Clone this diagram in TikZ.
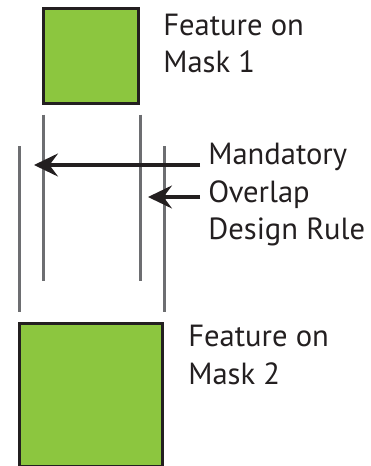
\documentclass[tikz,border=0pt]{standalone}
\usepackage{fontspec}
\setmainfont{PT Sans}
\usetikzlibrary{arrows.meta,calc}
\definecolor{featgreen}{HTML}{8CC63F}
\definecolor{inkdark}{HTML}{231F20}
\definecolor{guidegray}{HTML}{6D6E71}
\tikzset{
	feature/.style={draw=inkdark,fill=featgreen,line width=0.06cm,inner sep=0pt},
	guide/.style={draw=guidegray,line width=0.06cm},
	pointer/.style={draw=inkdark,line width=0.065cm,-{Stealth[length=0.48cm,width=0.46cm,inset=0.17cm]}},
	caption/.style={align=left,inner sep=0pt,anchor=north west,font=\fontsize{17.4}{21.4}\selectfont,text=inkdark}
}
\begin{document}
\begin{tikzpicture}
	\useasboundingbox (0,0) rectangle (7.42,-9.32);
		\begin{scope}
			\node[feature,minimum width=1.9cm,minimum height=1.9cm] (mask1) at (1.81,-1.11) {};
			\node[caption] (lbl1) at (3.26,-0.27) {Feature on\\Mask 1};
			\draw[guide] ($(mask1.south west)+(0.04,-0.2)$) -- ++(0,-3.32)
				($(mask1.south east)+(0.02,-0.2)$) -- ++(0,-3.32);
		\end{scope}
		\begin{scope}
			\node[feature,minimum width=2.86cm,minimum height=2.86cm] (mask2) at (1.82,-7.90) {};
			\node[caption] (lbl2) at (3.76,-6.50) {Feature on\\Mask 2};
			\draw[guide] ($(mask2.north west)+(0.03,0.21)$) -- ++(0,3.32)
				($(mask2.north east)+(0.01,0.21)$) -- ++(0,3.32);
		\end{scope}
		\begin{scope}
			\node[caption] (rule) at (4.16,-2.86) {Mandatory\\Overlap\\Design Rule};
			\coordinate (tipA) at (0.68,-3.30);
			\coordinate (tipB) at (2.96,-3.94);
			\draw[pointer] ($(tipA -| rule.west)+(-0.16,0)$) -- (tipA);
			\draw[pointer] ($(tipB -| rule.west)+(-0.16,0)$) -- (tipB);
		\end{scope}
	\end{tikzpicture}
\end{document}
